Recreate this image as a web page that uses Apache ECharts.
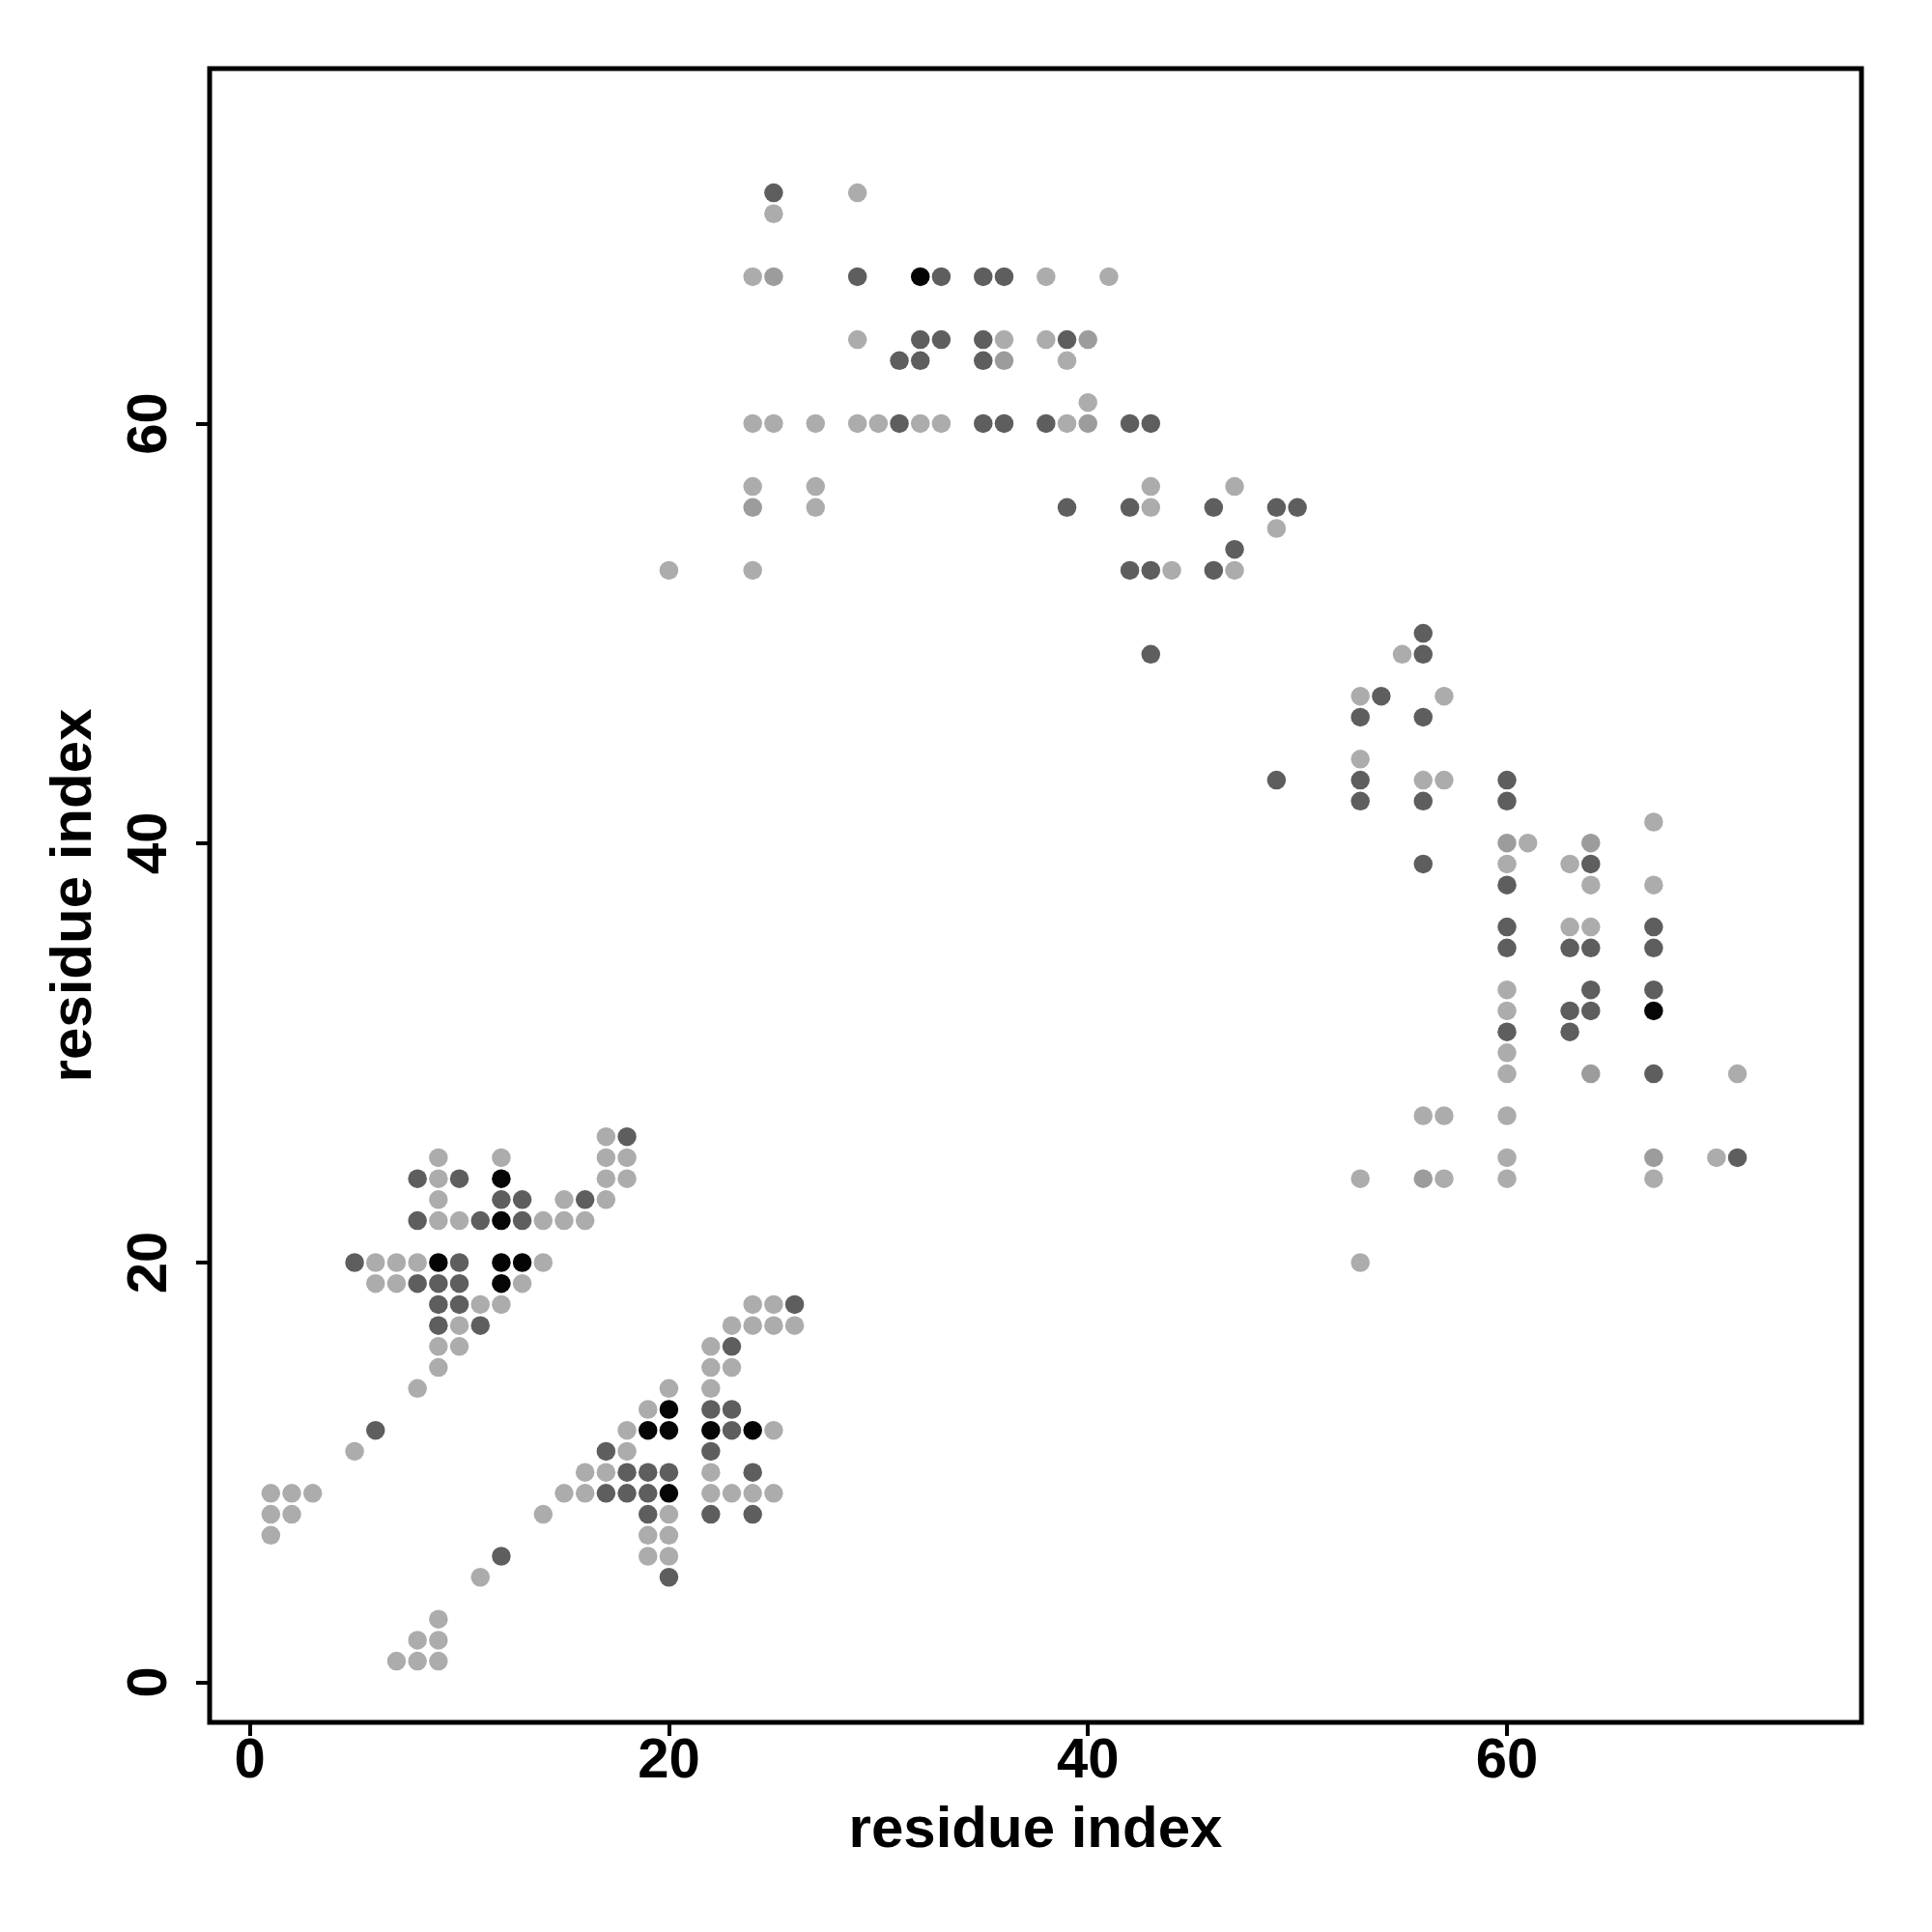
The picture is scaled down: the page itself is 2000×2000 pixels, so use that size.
<!DOCTYPE html>
<html>
<head>
<meta charset="utf-8">
<script src="https://cdn.jsdelivr.net/npm/echarts@6/dist/echarts.min.js"></script>
<style>
html,body{margin:0;padding:0;background:#fff;}
#chart{width:2000px;height:2000px;}
</style>
</head>
<body>
<div id="chart"></div>
<script>
// Contact map points [residue i, residue j], grouped by shade
const lightPoints = [
  [29,71],[25,70],[24,67],[38,67],[41,67],[29,64],[36,64],[38,64],[39,63],[40,61],
  [24,60],[25,60],[27,60],[29,60],[30,60],[32,60],[33,60],[39,60],[24,57],[27,57],
  [43,57],[47,57],[27,56],[43,56],[49,55],[20,53],[24,53],[44,53],[47,53],
  [55,49],[53,47],[57,47],[53,44],[56,43],[57,43],[67,41],[61,40],[60,39],[63,39],
  [64,38],[67,38],[63,36],[64,36],[60,33],[60,32],[60,30],[60,29],[71,29],[60,27],
  [56,27],[57,27],[60,25],[70,25],[53,24],[57,24],[60,24],[67,24],[53,20],
  [9,25],[12,25],[9,24],[9,23],[15,23],[17,23],[9,22],[10,22],[14,22],[15,22],[16,22],
  [6,20],[7,20],[8,20],[14,20],[6,19],[7,19],[13,19],[11,18],[12,18],[10,17],[9,16],
  [10,16],[9,15],[8,14],[17,26],[17,25],[18,25],[17,24],[18,24],[5,11],[1,9],[2,9],
  [3,9],[1,8],[2,8],[1,7],[11,5],[9,3],[8,2],[9,2],[7,1],[8,1],[9,1],
  [24,18],[25,18],[23,17],[24,17],[25,17],[26,17],[22,16],[22,15],[23,15],[20,14],
  [22,14],[19,13],[18,12],[25,12],[18,11],[16,10],[17,10],[22,10],[15,9],[16,9],
  [22,9],[23,9],[24,9],[25,9],[14,8],[20,8],[19,7],[20,7],[19,6],[20,6]
];
const midPoints = [
  [25,67],[24,56],[40,64],[36,63],[40,60],[60,40],[64,40],[64,29],[67,25],[56,24]
];
const darkPoints = [
  [25,71],[29,67],[33,67],[35,67],[36,67],[32,64],[33,64],[35,64],[39,64],[31,63],
  [32,63],[35,63],[31,60],[35,60],[36,60],[38,60],[42,60],[43,60],[39,56],[42,56],
  [46,56],[49,56],[50,56],[47,54],[42,53],[43,53],[46,53],[43,49],
  [56,50],[56,49],[54,47],[53,46],[56,46],[49,43],[53,43],[60,43],[53,42],[56,42],
  [60,42],[56,39],[64,39],[60,38],[60,36],[67,36],[60,35],[63,35],[64,35],[67,35],
  [64,33],[67,33],[63,32],[64,32],[60,31],[63,31],[67,29],[71,25],
  [8,24],[10,24],[12,23],[13,23],[16,23],[8,22],[11,22],[13,22],[5,20],[10,20],
  [8,19],[9,19],[10,19],[9,18],[10,18],[9,17],[11,17],[6,12],[18,26],[12,6],
  [26,18],[23,16],[22,13],[23,13],[23,12],[17,11],[22,11],[18,10],[19,10],[20,10],
  [24,10],[17,9],[18,9],[19,9],[19,8],[22,8],[24,8],[20,5]
];
const blackPoints = [
  [32,67],[12,24],[12,22],[9,20],[12,20],[13,20],[12,19],[20,13],[19,12],[20,12],
  [22,12],[24,12],[20,9],[67,32]
];
const tickValues = [0, 20, 40, 60];
const axisMin = -1.92, axisMax = 76.92;
const axisTitle = 'residue index';

const chart = echarts.init(document.getElementById('chart'), null, {renderer: 'canvas'});
const fontFamily = '"Liberation Sans", Arial, Helvetica, sans-serif';
function mkAxis(isY) {
  return {
    type: 'value',
    min: axisMin,
    max: axisMax,
    name: axisTitle,
    nameLocation: 'middle',
    nameGap: isY ? 110 : 82,
    nameRotate: isY ? 90 : 0,
    nameTextStyle: {fontFamily, fontWeight: 'bold', fontSize: 60, color: '#000'},
    axisLine: {show: false, onZero: false},
    splitLine: {show: false},
    axisTick: {show: true, length: 14, inside: false, lineStyle: {color: '#000', width: 4}, customValues: tickValues},
    axisLabel: {
      show: true, customValues: tickValues, color: '#000', fontFamily, fontWeight: 'bold', fontSize: 58,
      margin: isY ? 32 : 12, rotate: isY ? 90 : 0
    }
  };
}
function mkSeries(data, color) {
  return {
    type: 'scatter', data, symbol: 'circle', symbolSize: 19.5,
    itemStyle: {color, opacity: 1}, silent: true, animation: false
  };
}
chart.setOption({
  animation: false,
  backgroundColor: '#fff',
  grid: {left: 217, top: 71, width: 1710, height: 1712, show: true, borderColor: '#000', borderWidth: 5, backgroundColor: 'transparent', containLabel: false},
  xAxis: mkAxis(false),
  yAxis: mkAxis(true),
  series: [
    mkSeries(lightPoints, '#acacac'),
    mkSeries(midPoints, '#9c9c9c'),
    mkSeries(darkPoints, '#5e5e5e'),
    mkSeries(blackPoints, '#050505')
  ]
});
</script>
</body>
</html>
